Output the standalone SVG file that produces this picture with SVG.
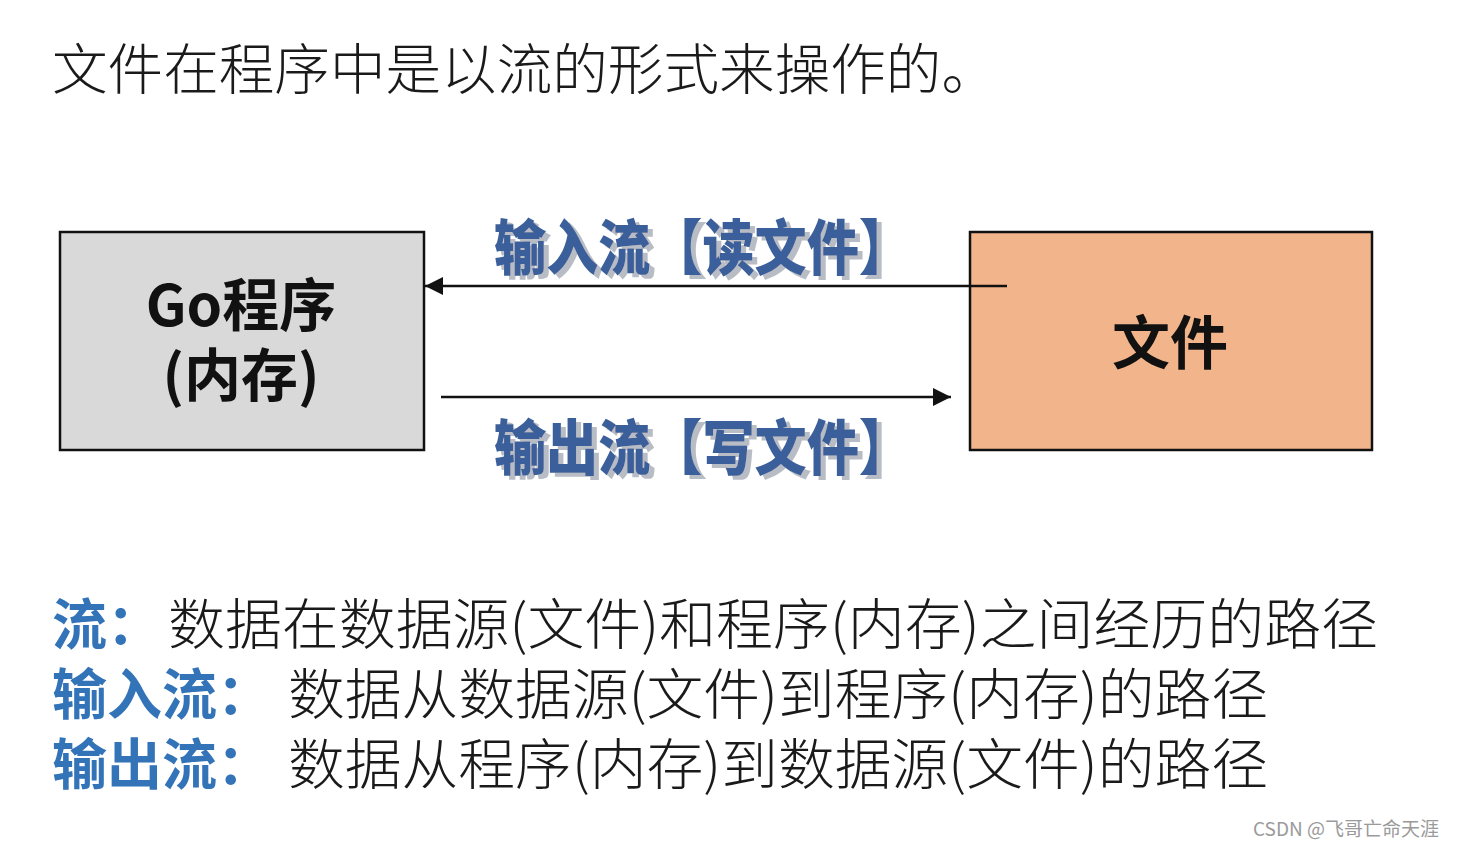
<svg xmlns="http://www.w3.org/2000/svg" width="1460" height="848" viewBox="0 0 1460 848">
<style>
text{font-family:"Noto Sans CJK SC","Noto Sans",sans-serif;}
.title{font-size:55px;fill:#1a1a1a;font-weight:300;}
.box{stroke:#111;stroke-width:2.5;}
.boxtxt{font-size:57px;font-weight:700;fill:#111;text-anchor:middle;}
.flow{font-size:60px;font-weight:900;fill:#3a5f9a;filter:url(#sh);}
.conn{stroke:#111;stroke-width:2.5;fill:none;}
.notes{font-size:55px;}
.key{font-weight:700;fill:#3373b8;}
.desc{font-weight:300;fill:#1a1a1a;}
.wm{font-size:19px;fill:#9a9a9a;}
</style>
<defs>
<filter id="sh" x="-5%" y="-20%" width="115%" height="150%">
<feOffset in="SourceAlpha" dx="5" dy="4" result="o"/>
<feFlood flood-color="#b8bcc4"/>
<feComposite in2="o" operator="in" result="s"/>
<feMerge><feMergeNode in="s"/><feMergeNode in="SourceGraphic"/></feMerge>
</filter>
<marker id="ahb" viewBox="0 0 10 10" refX="10" refY="5" markerWidth="20" markerHeight="18" markerUnits="userSpaceOnUse" orient="auto">
<path d="M0,0 L10,5 L0,10 z" fill="#111"/>
</marker>
</defs>
<rect width="1460" height="848" fill="#ffffff"/>
<text class="title" x="52" y="89" textLength="945" lengthAdjust="spacingAndGlyphs">文件在程序中是以流的形式来操作的。</text>
<g id="node-go">
<rect class="box" x="60" y="232" width="364" height="218" fill="#d9d9d9"/>
<text class="boxtxt"><tspan x="241" y="326">Go程序</tspan><tspan x="241" y="396">(内存)</tspan></text>
</g>
<g id="node-file">
<rect class="box" x="970" y="232" width="402" height="218" fill="#f2b48a"/>
<text class="boxtxt" x="1170" y="364" style="font-size:58px">文件</text>
</g>
<g id="connectors">
<line class="conn" x1="1007" y1="286" x2="425" y2="286" marker-end="url(#ahb)"/>
<line class="conn" x1="441" y1="397" x2="951" y2="397" marker-end="url(#ahb)"/>
</g>
<g id="label-input">
<text class="flow" x="494" y="270" textLength="417" lengthAdjust="spacingAndGlyphs">输入流【读文件】</text>
</g>
<g id="label-output">
<text class="flow" x="494" y="470" textLength="417" lengthAdjust="spacingAndGlyphs">输出流【写文件】</text>
</g>
<g id="notes">
<text class="notes"><tspan class="key" x="52" y="644">流：</tspan><tspan class="desc" x="168" y="644" textLength="1210" lengthAdjust="spacingAndGlyphs">数据在数据源(文件)和程序(内存)之间经历的路径</tspan><tspan class="key" x="52" y="714">输入流：</tspan><tspan class="desc" x="288" y="714" textLength="980" lengthAdjust="spacingAndGlyphs">数据从数据源(文件)到程序(内存)的路径</tspan><tspan class="key" x="52" y="784">输出流：</tspan><tspan class="desc" x="288" y="784" textLength="980" lengthAdjust="spacingAndGlyphs">数据从程序(内存)到数据源(文件)的路径</tspan></text>
</g>
<text class="wm" x="1253" y="836">CSDN @飞哥亡命天涯</text>
</svg>
